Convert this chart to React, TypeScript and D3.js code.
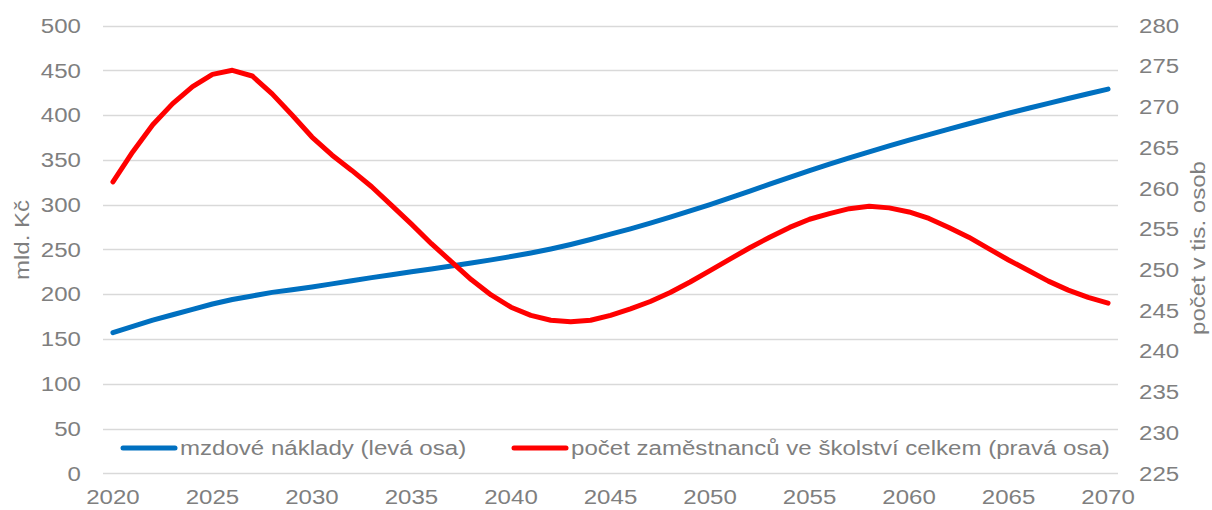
import React, { useEffect, useRef } from 'react';
import * as d3 from 'd3';

// years 2020..2070
const years: number[] = d3.range(2020, 2071);

// mzdové náklady, mld. Kč (left axis)
const wageCosts: number[] = [
  157, 164, 171, 177, 183, 189, 194, 198, 202, 205,
  208, 211.5, 215, 218.5, 221.8, 225, 228.2, 231.5, 234.8, 238.3,
  242, 246, 250.5, 255.5, 261, 267, 273, 279.3, 286, 293,
  300, 307.5, 315, 322.8, 330.5, 338, 345.2, 352.2, 359, 365.6,
  372, 378.2, 384.3, 390.3, 396.2, 402, 407.6, 413.1, 418.5, 423.8,
  429,
];

// počet zaměstnanců ve školství, tis. osob (right axis)
const employees: number[] = [
  260.8, 264.5, 267.8, 270.4, 272.5, 274.0, 274.5, 273.8, 271.6, 269.0,
  266.3, 264.1, 262.2, 260.2, 257.9, 255.6, 253.2, 251.0, 248.8, 246.9,
  245.4, 244.4, 243.8, 243.6, 243.8, 244.4, 245.2, 246.1, 247.2, 248.5,
  249.9, 251.3, 252.7, 254.0, 255.2, 256.2, 256.9, 257.5, 257.8, 257.6,
  257.1, 256.3, 255.2, 254.0, 252.6, 251.2, 249.9, 248.6, 247.5, 246.6,
  245.9,
];

const leftTicks: number[] = d3.range(0, 501, 50);
const rightTicks: number[] = d3.range(225, 281, 5);
const xTickYears: number[] = d3.range(2020, 2071, 5);

const seriesNames = [
  'mzdové náklady (levá osa)',
  'počet zaměstnanců ve školství celkem (pravá osa)',
];
const leftTitle = 'mld. Kč';
const rightTitle = 'počet v tis. osob';

export default function App() {
  const ref = useRef<SVGSVGElement>(null);

  useEffect(() => {
    const width = 1212;
    const height = 510;
    const plot = { left: 103, right: 1118, top: 25.5, bottom: 473.3 };
    const font = '"Liberation Sans", Arial, sans-serif';
    const textColor = '#7f7f7f';
    const sx = 1.146; // reference glyphs are wider than Liberation Sans

    const svg = d3.select(ref.current);
    svg.selectAll('*').remove();
    svg.attr('width', width).attr('height', height);

    const x = d3.scaleBand<number>()
      .domain(years)
      .range([plot.left, plot.right]);
    const xc = (yr: number) => (x(yr) as number) + x.bandwidth() / 2;

    const yL = d3.scaleLinear().domain([0, 500]).range([plot.bottom, plot.top]);
    const yR = d3.scaleLinear().domain([225, 280]).range([plot.bottom, plot.top]);

    // gridlines
    svg.append('g')
      .selectAll('line')
      .data(leftTicks)
      .enter()
      .append('line')
      .attr('x1', plot.left)
      .attr('x2', plot.right)
      .attr('y1', d => Math.round(yL(d)) + 0.5)
      .attr('y2', d => Math.round(yL(d)) + 0.5)
      .attr('stroke', '#d9d9d9')
      .attr('stroke-width', 1.3);

    const gl = svg.append('g')
      .attr('transform', `translate(${plot.left},0)`)
      .call(d3.axisLeft(yL).tickValues(leftTicks).tickSize(0).tickPadding(22));
    const gr = svg.append('g')
      .attr('transform', `translate(${plot.right},0)`)
      .call(d3.axisRight(yR).tickValues(rightTicks).tickSize(0).tickPadding(21));
    const gb = svg.append('g')
      .attr('transform', `translate(0,${plot.bottom})`)
      .call(d3.axisBottom(x).tickValues(xTickYears).tickSize(0).tickPadding(16));

    [gl, gr, gb].forEach(g => {
      g.select('.domain').remove();
      g.selectAll<SVGTextElement, unknown>('text')
        .attr('font-family', font)
        .attr('font-size', 21)
        .attr('fill', textColor)
        .attr('x', function () { return +(this.getAttribute('x') || 0) / sx; })
        .attr('transform', `scale(${sx},1)`);
    });

    const addText = (tx: number, ty: number, rot: number, anchor: string, s: string) =>
      svg.append('text')
        .attr('transform', `translate(${tx},${ty}) rotate(${rot}) scale(${sx},1)`)
        .attr('text-anchor', anchor)
        .attr('dy', '0.35em')
        .attr('font-family', font)
        .attr('font-size', 21)
        .attr('fill', textColor)
        .text(s);

    addText(22, 240, -90, 'middle', leftTitle);
    addText(1198, 248, -90, 'middle', rightTitle);

    const lineL = d3.line<number>()
      .x((_, i) => xc(years[i]))
      .y(d => yL(d));
    const lineR = d3.line<number>()
      .x((_, i) => xc(years[i]))
      .y(d => yR(d));

    svg.append('path')
      .datum(wageCosts)
      .attr('d', lineL)
      .attr('fill', 'none')
      .attr('stroke', '#0070c0')
      .attr('stroke-width', 5)
      .attr('stroke-linejoin', 'round')
      .attr('stroke-linecap', 'round');

    svg.append('path')
      .datum(employees)
      .attr('d', lineR)
      .attr('fill', 'none')
      .attr('stroke', '#ff0000')
      .attr('stroke-width', 5)
      .attr('stroke-linejoin', 'round')
      .attr('stroke-linecap', 'round');

    // legend
    const legend = [
      { name: seriesNames[0], color: '#0070c0', x0: 123 },
      { name: seriesNames[1], color: '#ff0000', x0: 514 },
    ];
    const ly = 448;
    legend.forEach(l => {
      svg.append('line')
        .attr('x1', l.x0)
        .attr('x2', l.x0 + 52)
        .attr('y1', ly)
        .attr('y2', ly)
        .attr('stroke', l.color)
        .attr('stroke-width', 5)
        .attr('stroke-linecap', 'round');
      addText(l.x0 + 57, ly, 0, 'start', l.name);
    });
  }, []);

  return (
    <div style={{ position: 'absolute', left: 0, top: 0, background: '#fff' }}>
      <svg ref={ref} style={{ display: 'block' }}></svg>
    </div>
  );
}
